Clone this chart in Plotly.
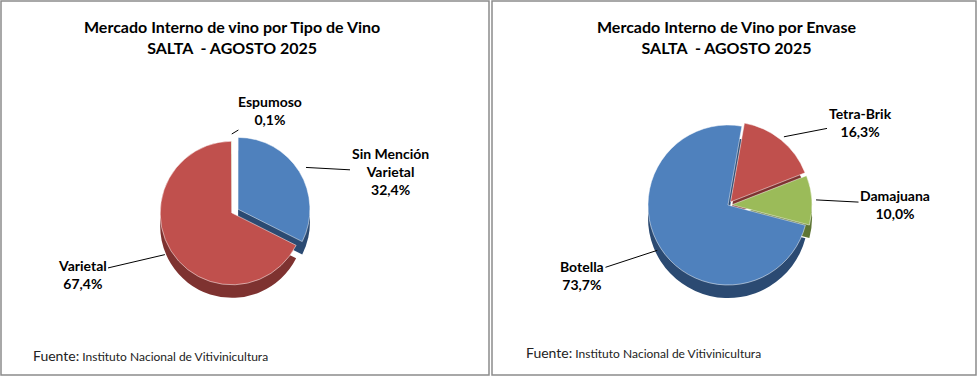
import math
import plotly.graph_objects as go

W, H = 978, 377

# ---- data ----
tipo_labels = ["Sin Mención Varietal", "Varietal", "Espumoso"]
tipo_values = [32.4, 67.4, 0.1]
tipo_display = ["Sin Mención<br>Varietal", "Varietal", "Espumoso"]

envase_labels = ["Tetra-Brik", "Damajuana", "Botella"]
envase_values = [16.3, 10.0, 73.7]
envase_display = ["Tetra-Brik", "Damajuana", "Botella"]

title_left = "Mercado Interno de vino por Tipo de Vino<br>SALTA  - AGOSTO 2025"
title_right = "Mercado Interno de Vino por Envase<br>SALTA  - AGOSTO 2025"
source_text = "Fuente:"
source_name = "Instituto Nacional de Vitivinicultura"

BLUE, RED, GREEN = "#4F81BD", "#C0504D", "#9BBB59"
BLUE_D, RED_D, GREEN_D = "#2B4A72", "#7E3230", "#5E7534"
FONT = "Lato"

tipo_colors = [BLUE, RED, GREEN]
tipo_dark = [BLUE_D, RED_D, GREEN_D]
env_colors = [RED, GREEN, BLUE]
env_dark = [RED_D, GREEN_D, BLUE_D]


def fmt(v):
    return f"{v:.1f}".replace(".", ",") + "%"


fig = go.Figure()


def add_pie(cx, cy, r, labels, values, colors, dark, pulls, rotation, depth):
    # depth (3D side) layer
    fig.add_trace(go.Pie(
        labels=labels, values=values, sort=False, direction="clockwise",
        rotation=rotation, pull=pulls, textinfo="none", hoverinfo="skip",
        marker=dict(colors=dark, line=dict(color=dark, width=0)),
        domain=dict(x=[(cx - r) / W, (cx + r) / W],
                    y=[(H - cy - depth - r) / H, (H - cy - depth + r) / H]),
        showlegend=False,
    ))
    fig.add_trace(go.Pie(
        labels=labels, values=values, sort=False, direction="clockwise",
        rotation=rotation, pull=pulls, textinfo="none",
        marker=dict(colors=colors, line=dict(color="white", width=0.5)),
        domain=dict(x=[(cx - r) / W, (cx + r) / W],
                    y=[(H - cy - r) / H, (H - cy + r) / H]),
        showlegend=False,
    ))


def add_labels(cx, cy, r, values, display, pulls, rotation, text_pos):
    total = sum(values)
    start = rotation
    for v, name, p, (tx, ty) in zip(values, display, pulls, text_pos):
        span = v / total * 360
        mid = math.radians(start + span / 2)
        rr = r * (1 + p)
        px = cx + rr * math.sin(mid)
        py = cy - rr * math.cos(mid)
        fig.add_annotation(
            x=px / W, y=(H - py) / H, xref="paper", yref="paper",
            text=f"<b>{name}<br>{fmt(v)}</b>", showarrow=True, arrowhead=0,
            arrowwidth=1, arrowcolor="black", ax=tx - px, ay=ty - py,
            font=dict(family=FONT, size=14, color="black"), align="center",
        )
        start += span


tipo_pulls = [0.1, 0, 0]
env_pulls = [0.05, 0.05, 0]

add_pie(232, 213, 79, tipo_labels, tipo_values, tipo_colors, tipo_dark, tipo_pulls, 0, 13)
add_pie(728, 205, 84, envase_labels, envase_values, env_colors, env_dark, env_pulls, 10, 13)

# label text centres (pixels)
add_labels(232, 213, 79, tipo_values, tipo_display, tipo_pulls, 0,
           [(390, 172), (82, 274), (270, 111)])
add_labels(728, 205, 84, envase_values, envase_display, env_pulls, 10,
           [(860, 122), (895, 204), (582, 275)])

# titles
for x, t in [(232, title_left), (726, title_right)]:
    fig.add_annotation(x=x / W, y=1 - 37 / H, xref="paper", yref="paper",
                       xanchor="center", yanchor="middle",
                       text=f"<b>{t}</b>", showarrow=False,
                       font=dict(family=FONT, size=16, color="black"))

# source notes
for x, y in [(31, 355), (524, 352)]:
    fig.add_annotation(
        x=x / W, y=1 - y / H, xref="paper", yref="paper",
        xanchor="left", yanchor="middle",
        text=f"<span style='font-size:14px'>{source_text}</span> "
             f"<span style='font-size:12px'>{source_name}</span>",
        showarrow=False, font=dict(family=FONT, color="#222222"))

# panel borders
for x0, x1 in [(1, 489), (492, 976)]:
    fig.add_shape(type="rect", xref="paper", yref="paper",
                  x0=x0 / W, x1=x1 / W, y0=1 - 375 / H, y1=1 - 1 / H,
                  line=dict(color="#8C8C8C", width=1.5), fillcolor="rgba(0,0,0,0)")

fig.update_layout(width=W, height=H, margin=dict(l=0, r=0, t=0, b=0),
                  paper_bgcolor="white", plot_bgcolor="white",
                  showlegend=False, separators=",.")

fig.write_html("out.html", config={"displayModeBar": False},
               post_script="document.body.style.margin='0';document.body.style.overflow='hidden';")
